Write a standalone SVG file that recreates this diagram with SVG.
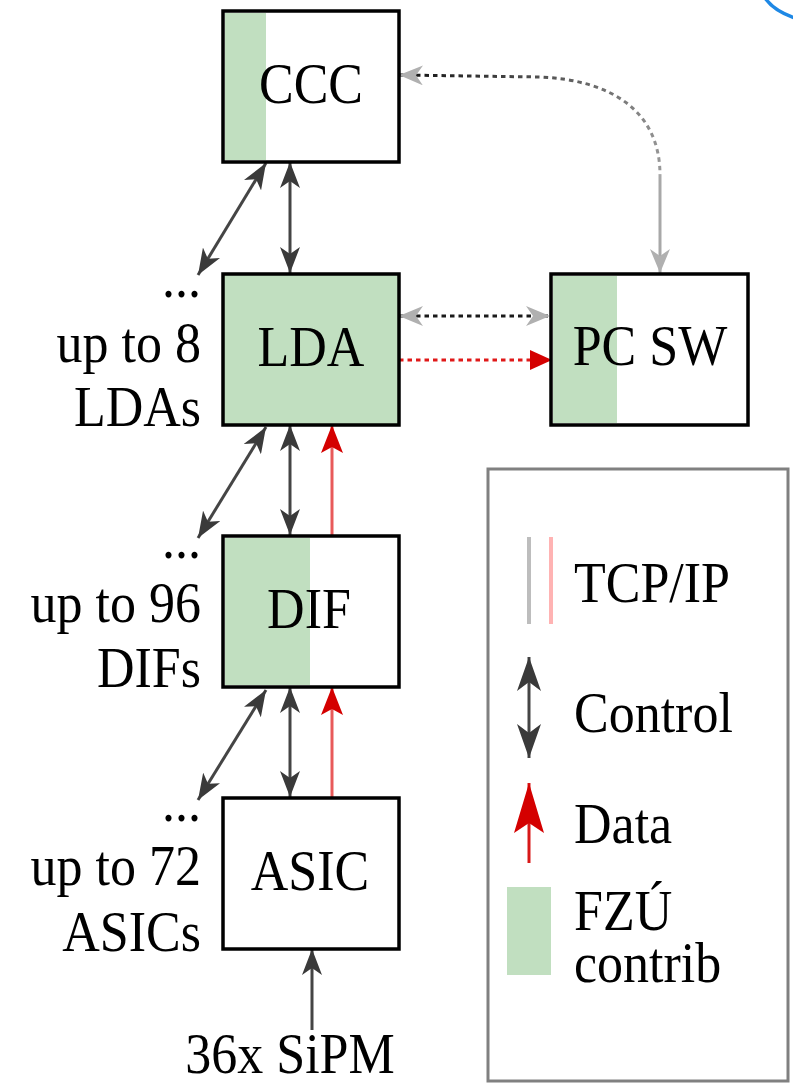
<svg xmlns="http://www.w3.org/2000/svg" width="793" height="1084" viewBox="0 0 793 1084">
<style>
.box{fill:#fff;stroke:#000;stroke-width:3.5}
.green{fill:#c1dfc0}
.t{font-family:"Liberation Serif","Times New Roman",serif;font-size:52px;fill:#000}
.c{text-anchor:middle}
.e{text-anchor:end}
.ctl{stroke:#454545;stroke-width:3;fill:none}
.data{stroke:#e85a5a;stroke-width:3;fill:none}
.dotk{stroke:#1a1a1a;stroke-width:3;stroke-dasharray:4.5 4;fill:none}
.dotr{stroke:#e01818;stroke-width:3;stroke-dasharray:4.5 4;fill:none}
</style>
<defs>
<marker id="ah" viewBox="0 0 26 20" refX="26" refY="10" markerWidth="26" markerHeight="20" markerUnits="userSpaceOnUse" orient="auto-start-reverse"><path d="M0,0 L26,10 L0,20 L7,10 z" fill="#3a3a3a"/></marker>
<marker id="ahL" viewBox="0 0 34 24" refX="34" refY="12" markerWidth="34" markerHeight="24" markerUnits="userSpaceOnUse" orient="auto-start-reverse"><path d="M0,0 L34,12 L0,24 L9,12 z" fill="#3a3a3a"/></marker>
<marker id="ahg" viewBox="0 0 24 20" refX="24" refY="10" markerWidth="24" markerHeight="20" markerUnits="userSpaceOnUse" orient="auto-start-reverse"><path d="M0,0 L24,10 L0,20 L7,10 z" fill="#b0b0b0"/></marker>
<marker id="ahr" viewBox="0 0 28 22" refX="28" refY="11" markerWidth="28" markerHeight="22" markerUnits="userSpaceOnUse" orient="auto-start-reverse"><path d="M0,0 L28,11 L0,22 L6,11 z" fill="#d40000"/></marker>
<marker id="ahrL" viewBox="0 0 50 30" refX="50" refY="15" markerWidth="50" markerHeight="30" markerUnits="userSpaceOnUse" orient="auto"><path d="M0,0 L50,15 L0,30 L10,15 z" fill="#d40000"/></marker>
<marker id="ahr2" viewBox="0 0 22 20" refX="22" refY="10" markerWidth="22" markerHeight="20" markerUnits="userSpaceOnUse" orient="auto"><path d="M0,0 L22,10 L0,20 z" fill="#d40000"/></marker>
<linearGradient id="fade" gradientUnits="userSpaceOnUse" x1="400" y1="75" x2="660" y2="180"><stop offset="0" stop-color="#111"/><stop offset="1" stop-color="#9a9a9a"/></linearGradient>
</defs>

<path d="M765,-2 Q774,11 795,18" fill="none" stroke="#1e88e5" stroke-width="3.5"/>

<g id="connectors">
<line class="ctl" x1="290" y1="162" x2="290" y2="273" marker-start="url(#ah)" marker-end="url(#ah)"/>
<line class="ctl" x1="266" y1="163" x2="198" y2="275" marker-start="url(#ah)" marker-end="url(#ah)"/>
<line class="ctl" x1="290" y1="425" x2="290" y2="535" marker-start="url(#ah)" marker-end="url(#ah)"/>
<line class="ctl" x1="266" y1="427" x2="198" y2="538" marker-start="url(#ah)" marker-end="url(#ah)"/>
<line class="ctl" x1="290" y1="687" x2="290" y2="797" marker-start="url(#ah)" marker-end="url(#ah)"/>
<line class="ctl" x1="266" y1="690" x2="198" y2="800" marker-start="url(#ah)" marker-end="url(#ah)"/>
<line class="data" x1="332" y1="535" x2="332" y2="425" marker-end="url(#ahr)"/>
<line class="data" x1="332" y1="797" x2="332" y2="687" marker-end="url(#ahr)"/>
<line class="ctl" x1="312" y1="1030" x2="312" y2="949" marker-end="url(#ah)"/>
<line class="dotk" x1="399" y1="316" x2="550" y2="316" marker-start="url(#ahg)" marker-end="url(#ahg)"/>
<line class="dotr" x1="399" y1="360" x2="552" y2="360" marker-end="url(#ahr2)"/>
<path d="M399,75 L540,77 C610,80 660,110 660,175" fill="none" stroke="url(#fade)" stroke-width="3" stroke-dasharray="4.5 4" marker-start="url(#ahg)"/>
<path d="M660,175 L660,273" fill="none" stroke="#a8a8a8" stroke-width="3" marker-end="url(#ahg)"/>
</g>

<g id="ccc">
<rect class="box" x="223" y="11" width="176" height="151"/>
<rect class="green" x="225" y="13" width="41" height="147"/>
<text class="t c" transform="matrix(1 0 0 1.1 311 103)">CCC</text>
</g>
<g id="lda">
<rect class="box" x="223" y="274" width="176" height="151" style="fill:#c1dfc0"/>
<text class="t c" transform="matrix(1 0 0 1.1 311 366)">LDA</text>
</g>
<g id="pcsw">
<rect class="box" x="551" y="274" width="197" height="151"/>
<rect class="green" x="553" y="276" width="64" height="147"/>
<text class="t c" transform="matrix(1 0 0 1.1 650 365)">PC SW</text>
</g>
<g id="dif">
<rect class="box" x="223" y="536" width="176" height="151"/>
<rect class="green" x="225" y="538" width="85" height="147"/>
<text class="t c" transform="matrix(1 0 0 1.1 309 628)">DIF</text>
</g>
<g id="asic">
<rect class="box" x="223" y="798" width="176" height="151"/>
<text class="t c" transform="matrix(1 0 0 1.1 310 890)">ASIC</text>
</g>

<g id="labels">
<text class="t e" transform="matrix(1 0 0 1.1 201 297)">...</text>
<text class="t e" transform="matrix(1 0 0 1.1 201 362)">up to 8</text>
<text class="t e" transform="matrix(1 0 0 1.1 201 426)">LDAs</text>
<text class="t e" transform="matrix(1 0 0 1.1 201 558)">...</text>
<text class="t e" transform="matrix(1 0 0 1.1 201 622)">up to 96</text>
<text class="t e" transform="matrix(1 0 0 1.1 201 687)">DIFs</text>
<text class="t e" transform="matrix(1 0 0 1.1 201 821)">...</text>
<text class="t e" transform="matrix(1 0 0 1.1 201 885)">up to 72</text>
<text class="t e" transform="matrix(1 0 0 1.1 201 951)">ASICs</text>
<text class="t c" transform="matrix(1 0 0 1.1 290 1073)">36x SiPM</text>
</g>

<g id="legend">
<rect x="488" y="469" width="300" height="612" fill="#fff" stroke="#808080" stroke-width="3"/>
<line x1="529" y1="537" x2="529" y2="624" stroke="#bdbdbd" stroke-width="4"/>
<line x1="551" y1="537" x2="551" y2="624" stroke="#ffb3b3" stroke-width="4"/>
<text class="t" transform="matrix(1 0 0 1.1 574 602)">TCP/IP</text>
<line class="ctl" x1="529" y1="657" x2="529" y2="758" marker-start="url(#ahL)" marker-end="url(#ahL)"/>
<text class="t" transform="matrix(1 0 0 1.1 574 732)">Control</text>
<line x1="529" y1="863" x2="529" y2="783" stroke="#d81818" stroke-width="3" marker-end="url(#ahrL)"/>
<text class="t" transform="matrix(1 0 0 1.1 574 843)">Data</text>
<rect class="green" x="507" y="887" width="44" height="88"/>
<text class="t" transform="matrix(1 0 0 1.1 574 930)">FZÚ</text>
<text class="t" transform="matrix(1 0 0 1.1 574 982)">contrib</text>
</g>
</svg>
